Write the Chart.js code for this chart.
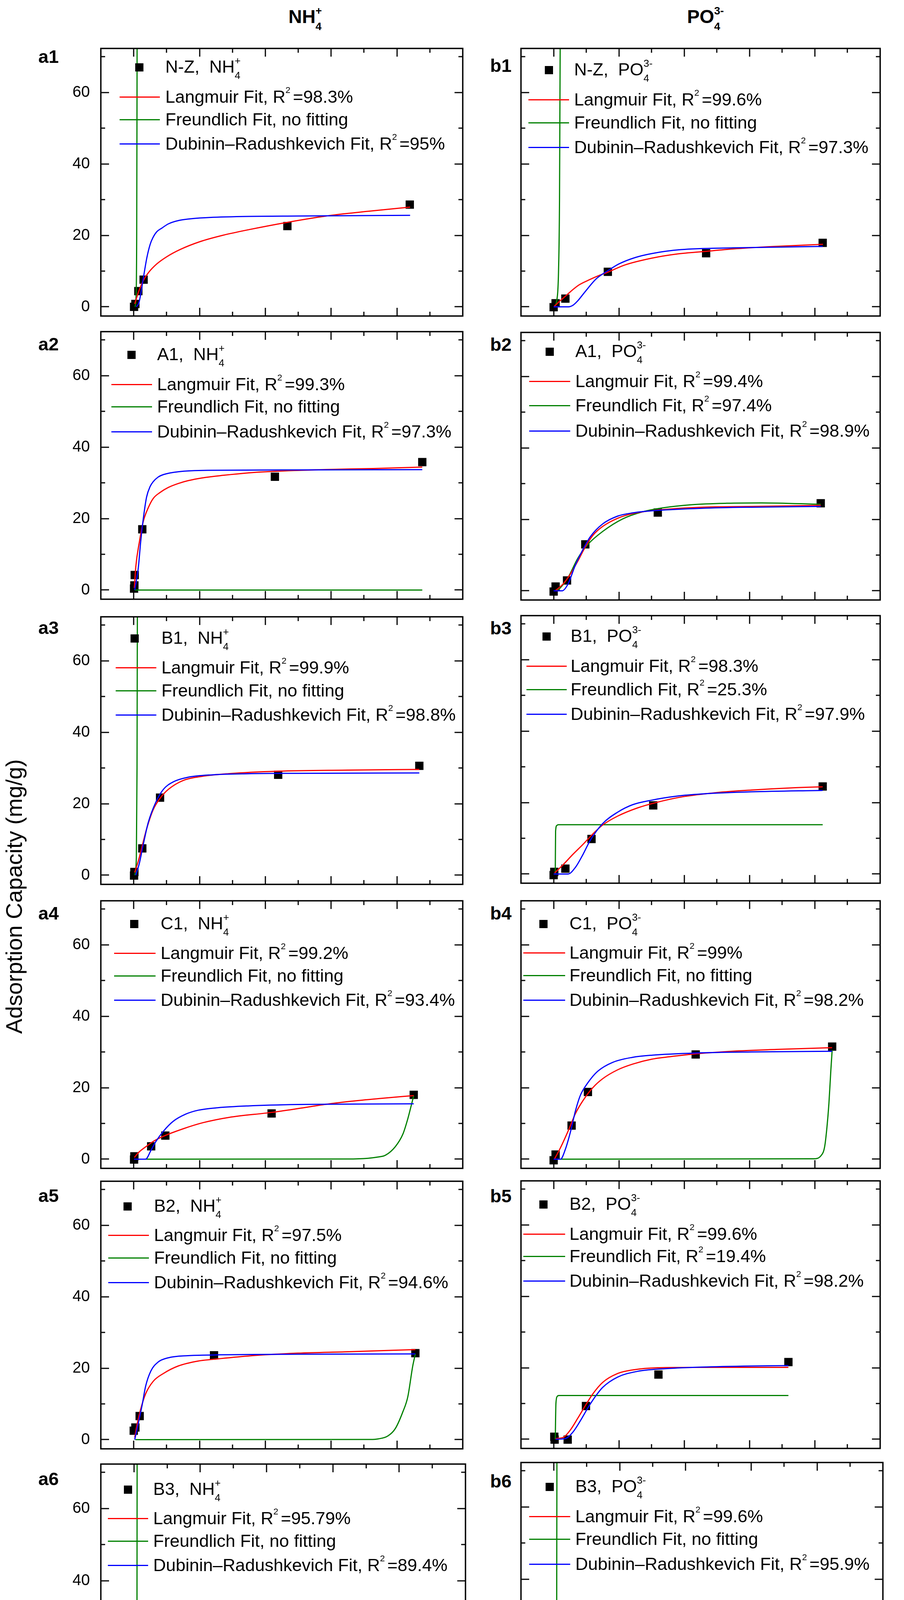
<!DOCTYPE html>
<html>
<head>
<meta charset="utf-8">
<script src="https://cdn.jsdelivr.net/npm/chart.js@4.4.1/dist/chart.umd.min.js"></script>
<style>
  html, body { margin: 0; padding: 0; background: #fff; }
  body { width: 2313px; height: 4618px; position: relative; overflow: hidden; font-family: "Liberation Sans", Arial, sans-serif; color: #000; }
  canvas { position: absolute; }
  .t { position: absolute; white-space: nowrap; line-height: 1; }
  .b { font-weight: bold; }
  .ss { position: relative; }
  .ss .dn { position: relative; top: 0.62em; font-size: 0.58em; }
  .ss .up { position: absolute; left: 0; top: -0.1em; font-size: 0.58em; }
  .r2 { position: relative; top: -1.12em; font-size: 0.5em; }
  .sw { position: absolute; height: 3px; }
  .mk { position: absolute; width: 21px; height: 21px; background: #000; }
</style>
</head>
<body>
<script>
// axis ranges and ticks (shared by all panels)
const xMin = -10, xMax = 100, yMin = -2.57, yMax = 72.3;
const xTicks = [0, 20, 40, 60, 80, 100];
const yTicks = [0, 20, 40, 60];
const xMarks = [0, 10, 20, 30, 40, 50, 60, 70, 80, 90];
const yMarks = [0, 10, 20, 30, 40, 50, 60, 70];

// legend texts
const sampleNames = ['N-Z', 'A1', 'B1', 'C1', 'B2', 'B3'];
const langR2NH = ['98.3%', '99.3%', '99.9%', '99.2%', '97.5%', '95.79%'];
const freuR2NH = [null, null, null, null, null, null];
const drR2NH = ['95%', '97.3%', '98.8%', '93.4%', '94.6%', '89.4%'];
const langR2PO = ['99.6%', '99.4%', '98.3%', '99%', '99.6%', '99.6%'];
const freuR2PO = [null, '97.4%', '25.3%', null, '19.4%', null];
const drR2PO = ['97.3%', '98.9%', '97.9%', '98.2%', '98.2%', '95.9%'];

// ---- a1: N-Z, NH4+
const a1PtX = [0.1, 0.5, 1.4, 3.0, 46.7, 83.9];
const a1PtY = [0.0, 0.8, 4.4, 7.6, 22.6, 28.6];
const a1LangX = [0.3, 1.5, 3, 4.5, 7, 10, 14, 20, 27, 35, 47, 60, 72, 84];
const a1LangY = [0.8, 4.3, 7.5, 9.6, 12.0, 14.0, 16.0, 18.2, 20.0, 21.6, 23.7, 25.6, 26.8, 27.9];
const a1FreuX = [0.4, 0.7, 0.9, 1.0, 1.05];
const a1FreuY = [0, 3, 20, 60, 90];
const a1DrX = [0.8, 1.6, 2.2, 3.0, 4.0, 5.0, 5.8, 7, 8.5, 10.5, 13.9, 18, 23, 35, 50, 84];
const a1DrY = [0, 1.2, 4, 8.5, 13.8, 17.5, 19.3, 21, 22, 23.2, 24.2, 24.7, 25.0, 25.3, 25.4, 25.6];

// ---- b1: N-Z, PO4 3-
const b1PtX = [0, 0.6, 3.6, 16.6, 46.7, 82.4];
const b1PtY = [-0.1, 1.0, 2.3, 9.8, 15.0, 17.9];
const b1LangX = [0.2, 2, 3.9, 6, 7.9, 11, 14, 16.6, 21.8, 30, 38, 46.3, 55, 65.5, 82.5];
const b1LangY = [0.15, 1.7, 3.2, 4.9, 6.2, 7.6, 8.8, 9.7, 11.7, 13.6, 14.8, 15.5, 16.2, 16.8, 17.5];
const b1FreuX = [0.2, 1.0, 1.5, 1.8, 2.0, 2.05];
const b1FreuY = [0, 2, 10, 30, 72, 90];
const b1DrX = [0, 4.5, 6, 7.5, 9, 10.5, 13, 16.6, 20, 25, 30, 39, 55, 82.4];
const b1DrY = [0, 0, 0.5, 1.8, 3.5, 5.2, 7.8, 10.1, 12, 13.8, 14.9, 16.0, 16.5, 16.9];

// ---- a2: A1, NH4+
const a2PtX = [0.1, 0.2, 0.3, 2.6, 42.9, 87.7];
const a2PtY = [0.4, 1.3, 4.2, 17.0, 31.7, 35.8];
const a2LangX = [0.2, 0.6, 1.7, 2.9, 4.4, 5.9, 8, 10.5, 13.5, 16.5, 21, 27.2, 35, 42.3, 57.5, 72.7, 87.7];
const a2LangY = [0.6, 6.3, 13.4, 19.2, 23, 25.6, 27.3, 28.7, 29.8, 30.6, 31.4, 32.1, 32.8, 33.2, 33.7, 34.0, 34.4];
const a2FreuX = [0.3, 87.7];
const a2FreuY = [0, 0];
const a2DrX = [0.3, 1.4, 2.1, 2.9, 3.9, 5.0, 5.9, 7.4, 9, 13.5, 22.6, 50, 87.7];
const a2DrY = [0, 6.3, 13.4, 19.9, 26, 29, 30.3, 31.6, 32.3, 33.1, 33.5, 33.6, 33.7];

// ---- b2: A1, PO4 3-
const b2PtX = [0, 0.6, 4.1, 9.7, 31.9, 81.8];
const b2PtY = [-0.2, 1.2, 2.9, 13.0, 21.9, 24.5];
const b2LangX = [0.6, 2.9, 5.2, 7.4, 9.7, 12, 15, 19.6, 24.2, 31.8, 45.4, 60.6, 81.8];
const b2LangY = [0.1, 1.9, 4.8, 8.3, 12.3, 15.5, 18.0, 20.3, 21.6, 22.6, 23.4, 23.6, 23.9];
const b2FreuX = [0.5, 1.4, 4.4, 7.4, 10.5, 15, 21.1, 27.2, 33.3, 42.4, 53, 63.7, 81.8];
const b2FreuY = [0, 0.3, 3.7, 9.1, 13, 16.6, 20.1, 22.1, 23.2, 24.1, 24.5, 24.6, 24.2];
const b2DrX = [0, 2.6, 4.4, 6.7, 9, 11.2, 15, 19.6, 24.2, 31.8, 45.4, 60.6, 81.8];
const b2DrY = [0, 0, 1.9, 7.3, 11.6, 15.1, 18.7, 20.9, 21.8, 22.5, 23.1, 23.4, 23.6];

// ---- a3: B1, NH4+
const a3PtX = [0.1, 0.2, 2.6, 8.0, 43.9, 86.8];
const a3PtY = [-0.1, 0.9, 7.5, 21.7, 28.1, 30.6];
const a3LangX = [0.3, 1.4, 2.6, 3.9, 5.9, 8, 10.5, 15, 21.1, 28.7, 43.9, 65.1, 86.8];
const a3LangY = [0.75, 4.0, 8.3, 12.9, 18.3, 21.5, 24.0, 26.5, 27.7, 28.4, 29.1, 29.4, 29.6];
const a3FreuX = [0.3, 0.8, 1.0, 1.1, 1.15];
const a3FreuY = [0, 5, 30, 72, 90];
const a3DrX = [0.6, 1.7, 2.9, 4.4, 6.7, 9, 12, 16.5, 24.1, 34.7, 49.9, 86.8];
const a3DrY = [0, 3.3, 8.6, 14.7, 20.4, 24.0, 26.1, 27.4, 28.1, 28.4, 28.5, 28.6];

// ---- b3: B1, PO4 3-
const b3PtX = [0, 0.2, 3.6, 11.6, 30.5, 82.4];
const b3PtY = [-0.3, 0.6, 1.5, 9.8, 19.2, 24.5];
const b3LangX = [0.3, 2.9, 5.9, 9, 12, 15, 19.6, 25.7, 31.8, 39.4, 50, 60.6, 72.8, 82.4];
const b3LangY = [0.3, 2.6, 5.5, 8.3, 11.2, 13.7, 16.2, 18.5, 20.1, 21.6, 22.8, 23.5, 24.1, 24.4];
const b3FreuX = [0.5, 0.6, 1.0, 1.4, 82.4];
const b3FreuY = [0, 12, 13.6, 13.8, 13.8];
const b3DrX = [0, 4.4, 6.7, 9, 11.2, 15, 19.6, 24.2, 30.2, 37.8, 45.4, 60.6, 82.4];
const b3DrY = [0, 0, 1.9, 5.5, 9.4, 14.1, 17.3, 19.4, 20.7, 21.8, 22.4, 23.0, 23.4];

// ---- a4: C1, NH4+
const a4PtX = [0.1, 0.2, 5.3, 9.6, 41.9, 85.1];
const a4PtY = [-0.1, 0.8, 3.6, 6.6, 12.8, 18.0];
const a4LangX = [0.2, 1.5, 4, 6, 9, 15, 21, 29, 42, 53, 58, 66, 75, 85.1];
const a4LangY = [0.5, 1.9, 3.7, 5.0, 6.4, 8.5, 10.2, 11.7, 13.1, 14.6, 15.3, 16.2, 17.0, 17.8];
const a4FreuX = [0.5, 65, 71.2, 74.2, 76.5, 79.5, 81.8, 83.3, 84.5, 85.1];
const a4FreuY = [0, 0.05, 0.25, 0.6, 1.1, 3.5, 7.0, 11.3, 15.6, 17.8];
const a4DrX = [0.1, 3.6, 5.2, 6.7, 9, 12, 15.8, 19.6, 25.6, 34.7, 49.9, 65.1, 85.1];
const a4DrY = [0, 0, 2.4, 4.9, 7.8, 10.6, 12.6, 13.7, 14.4, 14.9, 15.3, 15.4, 15.5];

// ---- b4: C1, PO4 3-
const b4PtX = [0, 0.6, 5.5, 10.5, 43.5, 85.3];
const b4PtY = [-0.3, 1.3, 9.4, 18.8, 29.3, 31.5];
const b4LangX = [0.3, 2.1, 4.4, 6.7, 9, 12, 15, 19.6, 24.2, 30.2, 37.8, 43.9, 54.6, 68.2, 85.3];
const b4LangY = [0.1, 3.2, 7.8, 12.8, 16.4, 20, 22.5, 25, 26.6, 28, 28.9, 29.5, 30.2, 30.7, 31.2];
const b4FreuX = [0.5, 79.6, 81.9, 83, 83.7, 84.3, 84.9, 85.3];
const b4FreuY = [0, 0.1, 1.0, 3.5, 8.9, 15.5, 24.9, 30.5];
const b4DrX = [0, 2.1, 3.6, 5.2, 6.7, 8.2, 10.5, 13.5, 18.1, 24.2, 30.2, 43.5, 60.6, 85.3];
const b4DrY = [0, 0, 2.8, 7.8, 13.6, 17.9, 21.4, 24.6, 27.1, 28.5, 29.1, 29.7, 30.0, 30.2];

// ---- a5: B2, NH4+
const a5PtX = [0, 0.5, 1.8, 24.4, 85.6];
const a5PtY = [2.5, 3.4, 6.6, 23.6, 24.2];
const a5LangX = [0.3, 1.1, 2.1, 3.6, 5.9, 9, 13.5, 19.6, 24.4, 34.7, 49.9, 65.1, 85.6];
const a5LangY = [0.6, 4.6, 8.5, 12.8, 16.3, 18.5, 20.6, 22.0, 22.5, 23.4, 24.2, 24.6, 25.2];
const a5FreuX = [0.5, 72, 74.2, 77.2, 79.5, 81.8, 83.3, 84.8, 85.6];
const a5FreuY = [0, 0.05, 0.2, 1.0, 3.1, 7.8, 12.0, 20.6, 24.0];
const a5DrX = [0.3, 1.4, 2.6, 3.6, 5.2, 7.4, 10.5, 16.5, 24.4, 49.9, 85.6];
const a5DrY = [0, 4.6, 9.9, 14.9, 19.2, 21.7, 22.9, 23.5, 23.7, 23.9, 24.0];

// ---- b5: B2, PO4 3-
const b5PtX = [0.2, 0.3, 4.3, 9.9, 32.1, 71.9];
const b5PtY = [0.7, -0.1, -0.1, 9.3, 18.1, 21.6];
const b5LangX = [0.6, 2.9, 5.2, 7.4, 9.7, 12, 15, 19.6, 24.2, 31.8, 45.4, 71.9];
const b5LangY = [0.2, 0.5, 2.7, 5.9, 9.4, 12.7, 15.9, 18.4, 19.4, 20.0, 20.1, 20.1];
const b5FreuX = [0.5, 0.7, 1.1, 1.6, 71.9];
const b5FreuY = [0, 10, 12.0, 12.25, 12.25];
const b5DrX = [0.6, 3.6, 5.9, 8.2, 10.5, 12.8, 15, 19.6, 25.7, 33.3, 45.4, 60.6, 71.9];
const b5DrY = [0, 0.2, 2, 5.2, 8.8, 12, 14.5, 17.4, 19.0, 19.7, 20.2, 20.5, 20.6];

// ---- a6: B3, NH4+
const a6PtX = [0, 0.6, 4.4, 8.6, 51.9, 85.1];
const a6PtY = [0, 0.5, 2.5, 5.5, 10.8, 17.1];
const a6LangX = [0.2, 2, 4.4, 7.4, 12, 20, 29, 40, 52, 62, 73, 85.1];
const a6LangY = [0.5, 2.0, 3.1, 4.2, 5.4, 7.2, 8.9, 10.6, 12.0, 13.4, 14.8, 16.3];
const a6FreuX = [0.3, 0.7, 0.9, 0.95, 1.0];
const a6FreuY = [0, 5, 30, 72, 90];
const a6DrX = [0.3, 3, 4.4, 5.9, 7.4, 9.7, 12.7, 16.5, 21, 29, 40, 57, 85.1];
const a6DrY = [0, 0, 1.4, 3.2, 5.3, 7.9, 10.2, 11.8, 12.6, 13.1, 13.4, 13.6, 13.8];

// ---- b6: B3, PO4 3-
const b6PtX = [0, 0.5, 4.1, 11.6, 30.5, 82.4];
const b6PtY = [-0.1, 0.6, 2.5, 7.7, 14.2, 19.5];
const b6LangX = [0.3, 2.1, 4.4, 7.4, 10.5, 15, 21.1, 27.2, 30.5, 37.8, 45.4, 53, 60.6, 71.3, 82.4];
const b6LangY = [0.1, 1.5, 3.3, 5.5, 7.6, 10.1, 12.3, 13.7, 14.2, 15.5, 16.6, 17.5, 18.2, 18.9, 19.4];
const b6FreuX = [0.2, 0.6, 0.85, 0.92, 0.95];
const b6FreuY = [0, 5, 30, 72, 90];
const b6DrX = [0, 4.4, 6.7, 9, 11.2, 13.5, 16.6, 21.1, 27.2, 34.8, 45.4, 60.6, 82.4];
const b6DrY = [0, 0, 1.5, 4.4, 7.6, 10.5, 13, 15, 16.4, 17.1, 17.5, 17.8, 18.1];

// ---- layout (pixels)
const frameLeft = [258, 1326];
const frameW = 933, frameH = 699;
const frameTopA = [117, 842, 1572, 2299, 3017, 3741];
const frameTopB = [117, 844, 1569, 2299, 3016, 3737];
// marker x, marker dy, line x1, line x2, text x, row dy1..3, panel label dy
const legendA = [
  [356, 55, 306, 409, 423, 131, 189, 251, 44],
  [336, 66, 285, 389, 402, 142, 199, 263, 55],
  [344, 62, 296, 400, 413, 137, 196, 258, 51],
  [343, 66, 292, 398, 411, 141, 199, 261, 55],
  [326, 71, 277, 381, 394, 145, 203, 266, 60],
  [327, 72, 276, 379, 392, 146, 204, 266, 61]
];
const legendB = [
  [1404, 62, 1352, 1456, 1469, 138, 197, 260, 67],
  [1406, 56, 1354, 1459, 1472, 132, 194, 259, 54],
  [1398, 60, 1347, 1450, 1460, 136, 196, 259, 55],
  [1390, 66, 1339, 1446, 1457, 140, 198, 261, 55],
  [1390, 67, 1339, 1446, 1457, 143, 200, 263, 62],
  [1406, 69, 1354, 1459, 1472, 145, 203, 267, 71]
];

const RED = '#FF0000', GREEN = '#008000', BLUE = '#0000FF';

const panels = [
  { id: 'a1', col: 0, row: 0, pts: [a1PtX, a1PtY], lang: [a1LangX, a1LangY], freu: [a1FreuX, a1FreuY], dr: [a1DrX, a1DrY] },
  { id: 'b1', col: 1, row: 0, pts: [b1PtX, b1PtY], lang: [b1LangX, b1LangY], freu: [b1FreuX, b1FreuY], dr: [b1DrX, b1DrY] },
  { id: 'a2', col: 0, row: 1, pts: [a2PtX, a2PtY], lang: [a2LangX, a2LangY], freu: [a2FreuX, a2FreuY], dr: [a2DrX, a2DrY] },
  { id: 'b2', col: 1, row: 1, pts: [b2PtX, b2PtY], lang: [b2LangX, b2LangY], freu: [b2FreuX, b2FreuY], dr: [b2DrX, b2DrY] },
  { id: 'a3', col: 0, row: 2, pts: [a3PtX, a3PtY], lang: [a3LangX, a3LangY], freu: [a3FreuX, a3FreuY], dr: [a3DrX, a3DrY] },
  { id: 'b3', col: 1, row: 2, pts: [b3PtX, b3PtY], lang: [b3LangX, b3LangY], freu: [b3FreuX, b3FreuY], dr: [b3DrX, b3DrY] },
  { id: 'a4', col: 0, row: 3, pts: [a4PtX, a4PtY], lang: [a4LangX, a4LangY], freu: [a4FreuX, a4FreuY], dr: [a4DrX, a4DrY] },
  { id: 'b4', col: 1, row: 3, pts: [b4PtX, b4PtY], lang: [b4LangX, b4LangY], freu: [b4FreuX, b4FreuY], dr: [b4DrX, b4DrY] },
  { id: 'a5', col: 0, row: 4, pts: [a5PtX, a5PtY], lang: [a5LangX, a5LangY], freu: [a5FreuX, a5FreuY], dr: [a5DrX, a5DrY] },
  { id: 'b5', col: 1, row: 4, pts: [b5PtX, b5PtY], lang: [b5LangX, b5LangY], freu: [b5FreuX, b5FreuY], dr: [b5DrX, b5DrY] },
  { id: 'a6', col: 0, row: 5, pts: [a6PtX, a6PtY], lang: [a6LangX, a6LangY], freu: [a6FreuX, a6FreuY], dr: [a6DrX, a6DrY] },
  { id: 'b6', col: 1, row: 5, pts: [b6PtX, b6PtY], lang: [b6LangX, b6LangY], freu: [b6FreuX, b6FreuY], dr: [b6DrX, b6DrY] }
];

function pairs(xs, ys) {
  return xs.map((x, i) => ({ x: x, y: ys[i] }));
}

// frame + inward ticks on all four sides
const frameTicks = {
  id: 'frameTicks',
  afterDatasetsDraw(chart) {
    const { ctx, chartArea: a, scales: { x, y } } = chart;
    ctx.save();
    ctx.strokeStyle = '#000';
    ctx.lineWidth = 3;
    ctx.beginPath();
    xMarks.forEach(v => {
      const px = Math.round(x.getPixelForValue(v));
      const len = v % 20 === 0 ? 21 : 11;
      ctx.moveTo(px, a.bottom); ctx.lineTo(px, a.bottom - len);
      ctx.moveTo(px, a.top); ctx.lineTo(px, a.top + len);
    });
    yMarks.forEach(v => {
      const py = Math.round(y.getPixelForValue(v));
      const len = v % 20 === 0 ? 21 : 11;
      ctx.moveTo(a.left, py); ctx.lineTo(a.left + len, py);
      ctx.moveTo(a.right, py); ctx.lineTo(a.right - len, py);
    });
    ctx.stroke();
    ctx.lineWidth = 3.5;
    ctx.strokeRect(a.left, a.top, a.right - a.left, a.bottom - a.top);
    ctx.restore();
  }
};

function lineSet(xy, color, order) {
  return {
    type: 'line', data: pairs(xy[0], xy[1]), borderColor: color, backgroundColor: color,
    borderWidth: 3, pointRadius: 0, fill: false, cubicInterpolationMode: 'monotone', order: order
  };
}

function makePanel(p) {
  const left = frameLeft[p.col];
  const top = (p.col === 0 ? frameTopA : frameTopB)[p.row];
  const ML = p.col === 0 ? 130 : 8;
  const MR = p.row === 5 ? 45 : 8;
  const MT = 8;
  const MB = p.row === 5 ? 80 : 8;
  const canvas = document.createElement('canvas');
  canvas.width = frameW + ML + MR;
  canvas.height = frameH + MT + MB;
  canvas.style.left = (left - ML) + 'px';
  canvas.style.top = (top - MT) + 'px';
  document.body.appendChild(canvas);

  const tickFont = { family: 'Liberation Sans', size: 40 };
  new Chart(canvas, {
    type: 'scatter',
    data: {
      datasets: [
        lineSet(p.freu, GREEN, 3),
        lineSet(p.lang, RED, 2),
        lineSet(p.dr, BLUE, 1),
        { type: 'scatter', data: pairs(p.pts[0], p.pts[1]), pointStyle: 'rect', pointRadius: 15,
          backgroundColor: '#000', borderColor: '#000', borderWidth: 0, order: 5 }
      ]
    },
    options: {
      responsive: false, animation: false, devicePixelRatio: 1,
      layout: { padding: { top: MT, right: MR, left: 0, bottom: 0 } },
      plugins: { legend: { display: false }, tooltip: { enabled: false } },
      scales: {
        x: {
          type: 'linear', min: xMin, max: xMax,
          grid: { display: false, drawTicks: false }, border: { display: false },
          ticks: { display: p.row === 5, font: tickFont, color: '#000', padding: 18, maxRotation: 0 },
          afterBuildTicks: s => { s.ticks = xTicks.map(v => ({ value: v })); },
          afterFit: s => { s.height = MB; s.paddingLeft = 0; s.paddingRight = 0; }
        },
        y: {
          type: 'linear', min: yMin, max: yMax,
          grid: { display: false, drawTicks: false }, border: { display: false },
          ticks: { display: p.col === 0, font: tickFont, color: '#000', padding: 28 },
          afterBuildTicks: s => { s.ticks = yTicks.map(v => ({ value: v })); },
          afterFit: s => { s.width = ML; s.paddingTop = 0; s.paddingBottom = 0; }
        }
      }
    },
    plugins: [frameTicks]
  });
}

// ---- text helpers (real HTML text)
function text(html, x, baseline, size, cls) {
  const d = document.createElement('div');
  d.className = 't' + (cls ? ' ' + cls : '');
  d.style.fontSize = size + 'px';
  d.style.left = x + 'px';
  d.style.top = (baseline - 0.8465 * size) + 'px';
  d.innerHTML = html;
  document.body.appendChild(d);
  return d;
}
function ion(base, sub, sup) {
  return base + '<span class="ss"><span class="dn">' + sub + '</span><span class="up">' + sup + '</span></span>';
}
function r2(v) {
  return 'R<span class="r2">2 </span>=' + v;
}
function box(cls, x, y, w, h, color) {
  const d = document.createElement('div');
  d.className = cls;
  d.style.left = x + 'px'; d.style.top = y + 'px';
  if (w) d.style.width = w + 'px';
  if (h) d.style.height = h + 'px';
  if (color) d.style.background = color;
  document.body.appendChild(d);
}

function makeLegend(p) {
  const top = (p.col === 0 ? frameTopA : frameTopB)[p.row];
  const g = (p.col === 0 ? legendA : legendB)[p.row];
  const nh = p.col === 0;
  const lang = (nh ? langR2NH : langR2PO)[p.row];
  const freu = (nh ? freuR2NH : freuR2PO)[p.row];
  const dr = (nh ? drR2NH : drR2PO)[p.row];
  const fs = 45;
  const my = top + g[1];
  box('mk', g[0] - 10.5, my - 10.5);
  const ionHtml = nh ? ion('NH', '4', '+') : ion('PO', '4', '3-');
  text(sampleNames[p.row] + ',&nbsp; ' + ionHtml, g[4], my + 14, fs);
  const rows = [
    [RED, 'Langmuir Fit, ' + r2(lang)],
    [GREEN, 'Freundlich Fit, ' + (freu ? r2(freu) : 'no fitting')],
    [BLUE, 'Dubinin\u2013Radushkevich Fit, ' + r2(dr)]
  ];
  rows.forEach((r, i) => {
    const ry = top + g[5 + i];
    box('sw', g[2], ry - 1.5, g[3] - g[2], 3, r[0]);
    text(r[1], g[4], ry + 15, fs);
  });
  // panel label
  const lx = p.col === 0 ? 98 : 1254;
  text(p.id, lx, top + g[8], 47, 'b');
}

panels.forEach(makePanel);
panels.forEach(makeLegend);

// column titles
text(ion('NH', '4', '+'), 738, 60, 48, 'b');
text(ion('PO', '4', '3-'), 1758, 60, 48, 'b');

// axis titles
const xt = text('Equilibrium Concentration (mg/L)', 0, 4582, 58);
xt.style.left = (1152 - xt.offsetWidth / 2) + 'px';
const yt = document.createElement('div');
yt.className = 't';
yt.style.fontSize = '58px';
yt.style.left = '36px';
yt.style.top = '2295px';
yt.style.transform = 'translate(-50%, -50%) rotate(-90deg)';
yt.textContent = 'Adsorption Capacity (mg/g)';
document.body.appendChild(yt);
</script>
</body>
</html>
